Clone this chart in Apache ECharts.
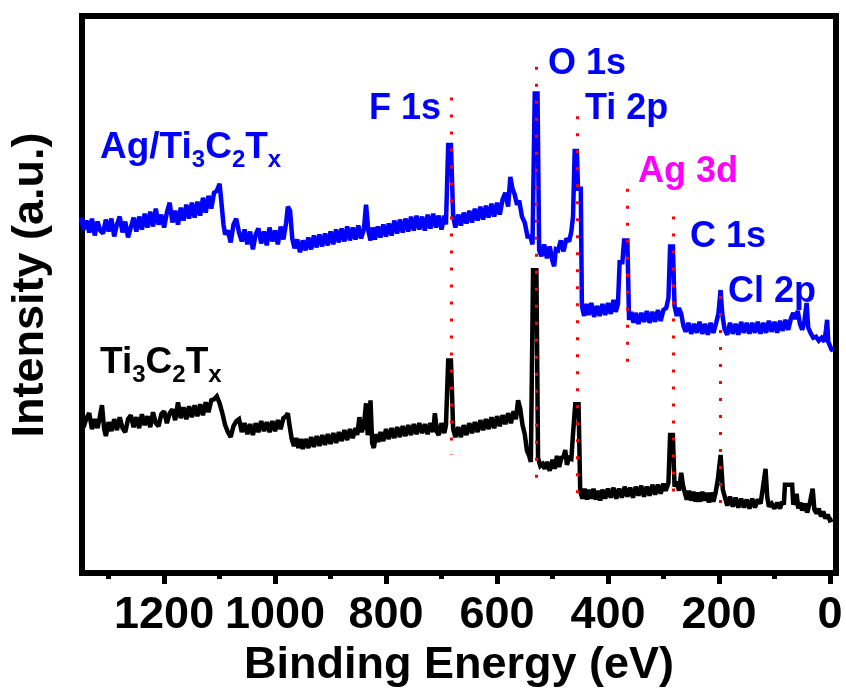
<!DOCTYPE html>
<html><head><meta charset="utf-8">
<script src="https://cdn.jsdelivr.net/npm/echarts@6/dist/echarts.min.js"></script>
<style>html,body{margin:0;padding:0;background:#fff}#c{width:846px;height:693px}</style>
</head><body><div id="c"></div>
<script>
const FONT = '"Liberation Sans", Arial, sans-serif';
const majorTicks = [0, 200, 400, 600, 800, 1000, 1200];
const minorTicks = [100, 300, 500, 700, 900, 1100, 1300];

// Ag/Ti3C2Tx survey spectrum: [binding energy (eV), intensity (a.u.)]
const agSeries = [[1350,359],[1345,347],[1340,356],[1335,344],[1330,358],[1325,341],[1320,355],[1315,346],[1310,343],[1305,357],[1300,345],[1295,358],[1290,340],[1285,352],[1280,360],[1275,344],[1270,355],[1265,339],[1260,349],[1255,359],[1250,345],[1245,360],[1240,347],[1235,363],[1230,349],[1225,365],[1220,350],[1215,368],[1210,352],[1205,362],[1200,349],[1195,364],[1190,374],[1185,354],[1180,366],[1175,352],[1170,369],[1165,356],[1160,372],[1155,358],[1150,374],[1145,359],[1140,375],[1135,361],[1130,379],[1125,364],[1120,381],[1115,368],[1110,384],[1105,386],[1100,393],[1097,376],[1093,352],[1090,342],[1085,346],[1080,334],[1075,352],[1070,358],[1065,344],[1060,335],[1055,347],[1050,332],[1045,345],[1040,327],[1035,342],[1030,348],[1025,333],[1020,345],[1015,331],[1010,349],[1005,335],[1000,346],[995,332],[990,350],[985,337],[980,354],[977,370],[973,366],[969,338],[965,328],[960,337],[955,324],[950,336],[945,326],[940,339],[935,327],[930,341],[925,329],[920,342],[915,330],[910,343],[905,331],[900,345],[895,332],[890,347],[885,334],[880,348],[875,335],[870,350],[865,336],[860,349],[855,337],[850,351],[845,338],[840,347],[836,372],[832,346],[828,336],[824,349],[820,337],[815,350],[810,339],[805,352],[800,340],[795,353],[790,341],[785,356],[780,343],[775,357],[770,344],[765,358],[760,345],[755,360],[750,346],[745,361],[740,347],[735,360],[730,346],[725,362],[720,348],[715,363],[710,349],[705,361],[700,347],[695,361],[692,352],[688,432],[683,432],[679,360],[675,349],[670,362],[665,351],[660,364],[655,353],[650,366],[645,354],[640,368],[635,356],[630,370],[625,357],[620,371],[615,359],[610,373],[605,360],[600,374],[595,362],[590,377],[585,384],[580,370],[576,400],[572,388],[568,382],[564,372],[560,376],[555,360],[550,354],[545,340],[540,340],[536,332],[532,484],[527,484],[524,326],[520,320],[515,332],[510,318],[505,330],[500,315],[497,310],[494,327],[490,326],[485,336],[480,325],[475,338],[470,335],[466,345],[463,360],[460,426],[456,426],[454,388],[449,388],[447,270],[443,260],[439,272],[435,261],[430,273],[425,259],[420,270],[415,260],[410,272],[405,261],[400,273],[395,262],[390,276],[386,264],[382,272],[379,314],[374,314],[371,336],[365,336],[362,256],[358,264],[354,253],[350,263],[345,252],[340,263],[335,254],[330,265],[325,253],[320,264],[315,254],[310,266],[305,255],[300,266],[295,268],[291,278],[288,330],[283,330],[280,270],[276,260],[272,268],[268,262],[264,250],[260,244],[255,253],[250,242],[245,252],[240,243],[235,254],[230,242],[225,252],[220,241],[215,253],[210,243],[205,253],[201,262],[197,286],[194,262],[190,247],[185,241],[180,253],[175,242],[170,252],[165,241],[160,254],[155,243],[150,253],[145,242],[140,253],[135,243],[130,254],[125,242],[120,253],[115,243],[110,255],[105,244],[100,254],[95,243],[90,255],[85,245],[80,256],[75,246],[70,258],[66,263],[62,257],[58,265],[54,252],[50,246],[46,254],[42,273],[39,248],[35,243],[30,238],[25,239],[20,235],[15,238],[10,234],[7,246],[5,256],[3,234],[0,230],[-3,226],[-6,225]];

// Ti3C2Tx survey spectrum: [binding energy (eV), intensity (a.u.)]
const tiSeries = [[1350,160],[1345,148],[1340,157],[1335,162],[1330,146],[1325,156],[1320,147],[1316,158],[1312,170],[1308,146],[1305,139],[1300,153],[1295,144],[1290,156],[1285,145],[1280,158],[1275,147],[1270,143],[1265,156],[1260,160],[1255,148],[1250,158],[1245,147],[1240,161],[1235,150],[1230,159],[1225,148],[1220,163],[1215,152],[1210,149],[1205,161],[1200,164],[1195,152],[1190,162],[1185,166],[1180,155],[1175,173],[1170,157],[1165,168],[1160,156],[1155,169],[1150,158],[1145,170],[1140,159],[1135,171],[1130,160],[1125,173],[1120,163],[1115,175],[1110,176],[1105,179],[1100,172],[1095,162],[1090,150],[1085,143],[1080,138],[1075,149],[1070,154],[1065,156],[1060,143],[1055,152],[1050,141],[1045,151],[1040,140],[1035,152],[1030,143],[1025,154],[1020,144],[1015,153],[1010,143],[1005,154],[1000,144],[995,155],[990,146],[985,157],[980,159],[977,162],[974,150],[970,136],[966,129],[962,137],[958,127],[954,136],[950,126],[945,136],[940,127],[935,138],[930,128],[925,139],[920,129],[915,140],[910,130],[905,141],[900,131],[895,142],[890,132],[885,143],[880,134],[875,145],[870,135],[865,146],[860,137],[855,147],[852,140],[848,158],[844,143],[840,149],[836,172],[833,140],[830,151],[828,175],[825,132],[822,127],[818,141],[814,133],[810,143],[805,134],[800,146],[795,136],[790,147],[785,137],[780,148],[775,138],[770,149],[765,139],[760,150],[755,140],[750,151],[745,141],[740,152],[735,142],[730,151],[725,141],[720,152],[715,143],[712,162],[708,143],[705,140],[700,152],[695,142],[692,150],[688,215],[683,215],[679,146],[675,138],[670,148],[665,138],[660,150],[655,140],[650,152],[645,142],[640,153],[635,143],[630,155],[625,145],[620,156],[615,146],[610,158],[605,147],[600,159],[595,149],[590,160],[585,151],[580,162],[575,152],[570,164],[566,156],[562,175],[558,166],[554,150],[550,141],[546,124],[542,119],[539,113],[535,306],[529,306],[526,117],[522,109],[518,111],[514,106],[510,113],[505,104],[500,115],[496,106],[492,119],[488,108],[484,117],[480,118],[477,125],[474,110],[470,117],[466,116],[463,141],[459,171],[453,171],[450,83],[446,76],[442,86],[438,75],[434,85],[430,76],[426,86],[422,75],[418,84],[414,74],[410,85],[405,76],[400,86],[395,77],[390,87],[385,76],[380,86],[375,77],[370,88],[365,78],[360,87],[355,77],[350,88],[345,79],[340,89],[335,78],[330,88],[325,79],[320,90],[315,80],[310,90],[305,81],[300,91],[296,84],[291,92],[288,140],[283,140],[280,88],[276,93],[272,84],[268,102],[265,90],[262,83],[258,75],[254,84],[250,74],[246,83],[242,73],[238,82],[234,73],[230,83],[226,74],[222,82],[218,72],[214,82],[210,73],[206,82],[202,95],[197,120],[193,85],[189,77],[185,69],[180,78],[175,68],[170,77],[165,67],[160,76],[155,67],[150,75],[145,66],[140,76],[135,67],[130,75],[125,71],[122,82],[116,106],[113,78],[110,68],[105,71],[100,66],[95,72],[90,66],[86,73],[83,70],[81,90],[68,90],[66,70],[63,74],[60,81],[57,66],[53,72],[50,64],[45,71],[41,62],[36,72],[31,86],[28,65],[24,61],[20,66],[16,58],[12,63],[8,56],[4,60],[0,54],[-5,55]];

// Peak reference lines
const peakNames = ['F 1s', 'O 1s', 'Ti 2p', 'Ag 3d', 'C 1s', 'Cl 2p'];
const peakEnergies = [683, 530, 456, 366, 283, 198];
const peakLineTop = [480, 511, 461, 388, 360, 280];
const peakLineBottom = [120, 86, 70, 201, 70, 58];

// label placement (pixels) and colours
const peakLabelPos = [[369, 91], [548, 46], [585, 91], [638, 154], [690, 219], [728, 274]];
const peakLabelColor = ['#0000ff', '#0000ff', '#0000ff', '#ff00ff', '#0000ff', '#0000ff'];

const chart = echarts.init(document.getElementById('c'), null, {renderer: 'canvas'});

const mainRich = (color) => ({
  m: {fontSize: 37, fontWeight: 'bold', fontFamily: FONT, lineHeight: 37, fill: color},
  s: {fontSize: 24, fontWeight: 'bold', fontFamily: FONT, lineHeight: 24, padding: [26, 0, 0, 0], fill: color}
});

const graphics = [];
peakNames.forEach((n, i) => {
  graphics.push({
    type: 'text', x: peakLabelPos[i][0], y: peakLabelPos[i][1], z: 20,
    style: {text: n, fill: peakLabelColor[i], fontSize: 36, fontWeight: 'bold', fontFamily: FONT,
            lineHeight: 36, align: 'left', verticalAlign: 'top'}
  });
});
graphics.push({
  type: 'text', x: 100, y: 129, z: 20,
  style: {text: '{m|Ag/Ti}{s|3}{m|C}{s|2}{m|T}{s|x}', rich: mainRich('#0000ff'), align: 'left', verticalAlign: 'top', fill: '#0000ff'}
});
graphics.push({
  type: 'text', x: 100, y: 344, z: 20,
  style: {text: '{m|Ti}{s|3}{m|C}{s|2}{m|T}{s|x}', rich: mainRich('#000000'), align: 'left', verticalAlign: 'top', fill: '#000'}
});
graphics.push({
  type: 'text', x: 31, y: 285, rotation: Math.PI / 2, z: 20,
  style: {text: 'Intensity (a.u.)', fill: '#000', fontSize: 45, fontWeight: 'bold', fontFamily: FONT,
          align: 'center', verticalAlign: 'middle'}
});

chart.setOption({
  animation: false,
  backgroundColor: '#ffffff',
  grid: {left: 82, right: 10, top: 16, bottom: 116, show: true, borderColor: '#000', borderWidth: 6, backgroundColor: 'transparent'},
  xAxis: [{
    type: 'value', min: -11, max: 1348, inverse: true, position: 'bottom',
    axisLine: {show: false}, splitLine: {show: false},
    axisTick: {show: true, inside: false, customValues: majorTicks, length: 11, lineStyle: {width: 5, color: '#000'}},
    axisLabel: {customValues: majorTicks, formatter: (v) => String(v), hideOverlap: false,
                fontSize: 45, fontWeight: 'bold', fontFamily: FONT, color: '#000', margin: 20},
    name: 'Binding Energy (eV)', nameLocation: 'middle', nameGap: 68,
    nameTextStyle: {fontSize: 45, fontWeight: 'bold', fontFamily: FONT, color: '#000'}
  }, {
    type: 'value', min: -11, max: 1348, inverse: true, position: 'bottom', offset: 0,
    axisLine: {show: false}, splitLine: {show: false}, axisLabel: {show: false},
    axisTick: {show: true, inside: false, customValues: minorTicks, length: 6, lineStyle: {width: 5, color: '#000'}}
  }],
  yAxis: {type: 'value', min: 1, max: 562, show: false},
  series: [
    {type: 'line', name: 'Ti3C2Tx', data: tiSeries, symbol: 'none', z: 2,
     lineStyle: {color: '#000000', width: 4.5, join: 'miter', miterLimit: 2}, itemStyle: {color: '#000'}},
    {type: 'line', name: 'Ag/Ti3C2Tx', data: agSeries, symbol: 'none', z: 3,
     lineStyle: {color: '#0000ff', width: 4.5, join: 'miter', miterLimit: 2}, itemStyle: {color: '#0000ff'}},
    {type: 'line', name: 'guides', data: [], symbol: 'none', z: 10,
     markLine: {silent: true, symbol: ['none', 'none'], label: {show: false}, animation: false,
       lineStyle: {color: '#ff0000', width: 3, type: [3, 14]},
       emphasis: {disabled: true},
       data: peakEnergies.map((e, i) => [{coord: [e, peakLineTop[i]]}, {coord: [e, peakLineBottom[i]]}])}}
  ],
  graphic: graphics
});
</script>
</body></html>
